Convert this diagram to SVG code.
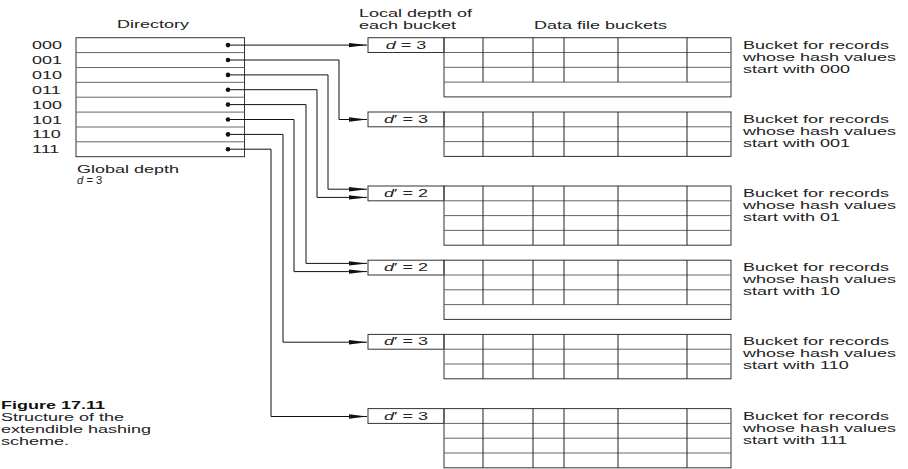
<svg xmlns="http://www.w3.org/2000/svg" width="908" height="469" viewBox="0 0 908 469">
<style>
  .t { font-family: "Liberation Sans", Arial, Helvetica, sans-serif; font-size: 11.25px; fill: #222; }
  .b { font-weight: bold; fill: #111; }
  .i { font-style: italic; }
  .box { fill: none; stroke: #333; stroke-width: 1; }
  .hl { fill: none; stroke: #666; stroke-width: 1; }
  .vl { fill: none; stroke: #222; stroke-width: 1; }
  .con { fill: none; stroke: #111; stroke-width: 1; }
  .dot { fill: #111; }
</style>
<defs>
  <marker id="arr" markerUnits="userSpaceOnUse" markerWidth="19" markerHeight="6" refX="18" refY="3" orient="auto">
    <path d="M0,0.8 L18,3 L0,5.2 z" fill="#111"/>
  </marker>
</defs>
<rect width="908" height="469" fill="#fff"/>

<!-- headings -->
<g id="headings">
  <text class="t" transform="translate(117,28) scale(1.6,1)">Directory</text>
  <text class="t" transform="translate(359,17) scale(1.6,1)">Local depth of</text>
  <text class="t" transform="translate(359,29) scale(1.6,1)">each bucket</text>
  <text class="t" transform="translate(534,29) scale(1.6,1)">Data file buckets</text>
</g>

<!-- directory -->
<g id="directory">
  <rect class="box" x="76" y="37.7" width="168.5" height="119"/>
  <path class="hl" d="M76,52.6H244.5M76,67.5H244.5M76,82.3H244.5M76,97.2H244.5M76,112.1H244.5M76,127H244.5M76,141.8H244.5"/>
  <g class="dot">
    <circle cx="228" cy="45.1" r="2.3"/>
    <circle cx="228" cy="60" r="2.3"/>
    <circle cx="228" cy="74.9" r="2.3"/>
    <circle cx="228" cy="89.7" r="2.3"/>
    <circle cx="228" cy="104.6" r="2.3"/>
    <circle cx="228" cy="119.5" r="2.3"/>
    <circle cx="228" cy="134.4" r="2.3"/>
    <circle cx="228" cy="149.2" r="2.3"/>
  </g>
  <text class="t" transform="translate(32,49.1) scale(1.6,1)">000</text>
  <text class="t" transform="translate(32,64) scale(1.6,1)">001</text>
  <text class="t" transform="translate(32,78.9) scale(1.6,1)">010</text>
  <text class="t" transform="translate(32,93.7) scale(1.6,1)">011</text>
  <text class="t" transform="translate(32,108.6) scale(1.6,1)">100</text>
  <text class="t" transform="translate(32,123.5) scale(1.6,1)">101</text>
  <text class="t" transform="translate(32,138.4) scale(1.6,1)">110</text>
  <text class="t" transform="translate(32,153.2) scale(1.6,1)">111</text>
  <text class="t" transform="translate(77,173) scale(1.6,1)">Global depth</text>
  <text class="t" x="77" y="184"><tspan class="i">d</tspan> = 3</text>
</g>

<!-- buckets -->
<g id="bucket1">
  <rect class="box" x="368" y="37.7" width="76" height="14.8"/>
  <rect class="box" x="444" y="37.7" width="287" height="59.2"/>
  <path class="hl" d="M444,52.5H731M444,67.3H731M444,82.1H731"/>
  <path class="vl" d="M483,37.7V82.1M533,37.7V82.1M564,37.7V82.1M618,37.7V82.1M687,37.7V82.1"/>
  <text class="t" text-anchor="middle" transform="translate(406,48.7) scale(1.6,1)"><tspan class="i">d</tspan> = 3</text>
  <text class="t" transform="translate(743,48.7) scale(1.6,1)">Bucket for records</text>
  <text class="t" transform="translate(743,60.7) scale(1.6,1)">whose hash values</text>
  <text class="t" transform="translate(743,72.7) scale(1.6,1)">start with 000</text>
</g>
<g id="bucket2">
  <rect class="box" x="368" y="112" width="76" height="14.8"/>
  <rect class="box" x="444" y="112" width="287" height="44.4"/>
  <path class="hl" d="M444,126.8H731M444,141.6H731"/>
  <path class="vl" d="M483,112V156.4M533,112V156.4M564,112V156.4M618,112V156.4M687,112V156.4"/>
  <text class="t" text-anchor="middle" transform="translate(406,123) scale(1.6,1)"><tspan class="i">d</tspan>′ = 3</text>
  <text class="t" transform="translate(743,123) scale(1.6,1)">Bucket for records</text>
  <text class="t" transform="translate(743,135) scale(1.6,1)">whose hash values</text>
  <text class="t" transform="translate(743,147) scale(1.6,1)">start with 001</text>
</g>
<g id="bucket3">
  <rect class="box" x="368" y="186" width="76" height="14.8"/>
  <rect class="box" x="444" y="186" width="287" height="59.2"/>
  <path class="hl" d="M444,200.8H731M444,215.6H731M444,230.4H731"/>
  <path class="vl" d="M483,186V245.2M533,186V245.2M564,186V245.2M618,186V245.2M687,186V245.2"/>
  <text class="t" text-anchor="middle" transform="translate(406,197) scale(1.6,1)"><tspan class="i">d</tspan>′ = 2</text>
  <text class="t" transform="translate(743,197) scale(1.6,1)">Bucket for records</text>
  <text class="t" transform="translate(743,209) scale(1.6,1)">whose hash values</text>
  <text class="t" transform="translate(743,221) scale(1.6,1)">start with 01</text>
</g>
<g id="bucket4">
  <rect class="box" x="368" y="260.2" width="76" height="14.8"/>
  <rect class="box" x="444" y="260.2" width="287" height="59.2"/>
  <path class="hl" d="M444,275H731M444,289.8H731M444,304.6H731"/>
  <path class="vl" d="M483,260.2V304.6M533,260.2V304.6M564,260.2V304.6M618,260.2V304.6M687,260.2V304.6"/>
  <text class="t" text-anchor="middle" transform="translate(406,271.2) scale(1.6,1)"><tspan class="i">d</tspan>′ = 2</text>
  <text class="t" transform="translate(743,271.2) scale(1.6,1)">Bucket for records</text>
  <text class="t" transform="translate(743,283.2) scale(1.6,1)">whose hash values</text>
  <text class="t" transform="translate(743,295.2) scale(1.6,1)">start with 10</text>
</g>
<g id="bucket5">
  <rect class="box" x="368" y="334.4" width="76" height="14.8"/>
  <rect class="box" x="444" y="334.4" width="287" height="44.4"/>
  <path class="hl" d="M444,349.2H731M444,364H731"/>
  <path class="vl" d="M483,334.4V378.8M533,334.4V378.8M564,334.4V378.8M618,334.4V378.8M687,334.4V378.8"/>
  <text class="t" text-anchor="middle" transform="translate(406,345.4) scale(1.6,1)"><tspan class="i">d</tspan>′ = 3</text>
  <text class="t" transform="translate(743,345.4) scale(1.6,1)">Bucket for records</text>
  <text class="t" transform="translate(743,357.4) scale(1.6,1)">whose hash values</text>
  <text class="t" transform="translate(743,369.4) scale(1.6,1)">start with 110</text>
</g>
<g id="bucket6">
  <rect class="box" x="368" y="408.6" width="76" height="14.8"/>
  <rect class="box" x="444" y="408.6" width="287" height="59.2"/>
  <path class="hl" d="M444,423.4H731M444,438.2H731M444,453H731"/>
  <path class="vl" d="M483,408.6V467.8M533,408.6V467.8M564,408.6V467.8M618,408.6V467.8M687,408.6V467.8"/>
  <text class="t" text-anchor="middle" transform="translate(406,419.6) scale(1.6,1)"><tspan class="i">d</tspan>′ = 3</text>
  <text class="t" transform="translate(743,419.6) scale(1.6,1)">Bucket for records</text>
  <text class="t" transform="translate(743,431.6) scale(1.6,1)">whose hash values</text>
  <text class="t" transform="translate(743,443.6) scale(1.6,1)">start with 111</text>
</g>

<!-- connectors -->
<g id="connectors" class="con">
  <path d="M228,45.1H367" marker-end="url(#arr)"/>
  <path d="M228,60H339V119.5H367" marker-end="url(#arr)"/>
  <path d="M228,74.9H328V189.2H367" marker-end="url(#arr)"/>
  <path d="M228,89.7H317V197.4H367" marker-end="url(#arr)"/>
  <path d="M228,104.6H306V263.4H367" marker-end="url(#arr)"/>
  <path d="M228,119.5H294V271.6H367" marker-end="url(#arr)"/>
  <path d="M228,134.4H283V342.2H367" marker-end="url(#arr)"/>
  <path d="M228,149.2H271V416.5H367" marker-end="url(#arr)"/>
</g>

<!-- caption -->
<g id="caption">
  <text class="t b" transform="translate(1,409) scale(1.6,1)">Figure 17.11</text>
  <text class="t" transform="translate(1,421) scale(1.6,1)">Structure of the</text>
  <text class="t" transform="translate(1,433) scale(1.6,1)">extendible hashing</text>
  <text class="t" transform="translate(1,445) scale(1.6,1)">scheme.</text>
</g>
</svg>
